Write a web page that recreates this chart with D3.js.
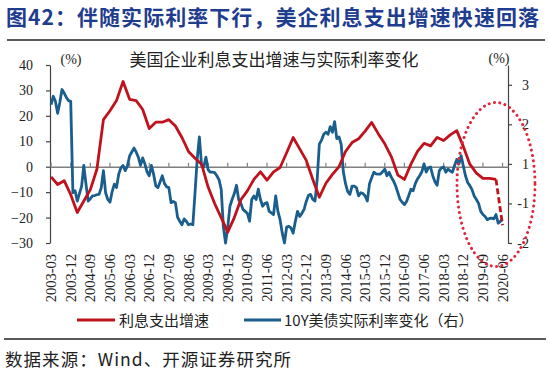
<!DOCTYPE html>
<html><head><meta charset="utf-8">
<script src="https://cdn.jsdelivr.net/npm/d3@7"></script>
<style>body{margin:0;background:#fff} svg{display:block}
.serif{font-family:'Liberation Serif','Times New Roman',serif !important;}
</style>
</head><body>
<svg id="c" width="550" height="372"></svg>
<script>
// ---------- data ----------
const firstMonth = new Date(2003, 2, 1);   // 2003-03
const endMonth = new Date(2020, 8, 1);     // exclusive -> last category 2020-08
const tickLabels = ["2003-03","2003-12","2004-09","2005-06","2006-03","2006-12","2007-09","2008-06",
  "2009-03","2009-12","2010-09","2011-06","2012-03","2012-12","2013-09","2014-06","2015-03","2015-12",
  "2016-09","2017-06","2018-03","2018-12","2019-09","2020-06"];
const leftTicks = [-30,-20,-10,0,10,20,30,40];
const rightTickValues = [2,1,0,-1,-2];
const rightTickLabels = ["3","2","1","-1","-2"];

// 利息支出增速 (quarterly, %), from 2003-03 every 3 months to 2020-03
const interestGrowth = [-4,-7,-5.5,-11,-18,-13.5,-9,-1,18.5,22,26,33.5,26.5,26,22.5,15,17.5,17.5,18.5,16,
  11.5,6,3.3,1,-8,-14.5,-20,-25.7,-20,-13,-9.5,-5,-2,-5.3,-2,-0.3,5.5,11.5,7,2.5,
  -5,-12,-6.5,-3,0,6,9.5,11,14,17.4,13,9,4,-3.3,-5,1,6,9.2,8.2,11.5,
  10.3,12.5,14.2,8,1,-2.5,-4.6,-4.6,-5];
// dashed last step
const forecastMonths = ["2020-03","2020-06"];
const interestForecast = [-5,-23];

// 10Y美债实际利率变化 (monthly, %), 2003-03 .. 2020-06
const realRateChange = [1.50,1.71,1.58,1.28,1.55,1.88,1.79,1.68,1.60,1.58,
  -0.73,-0.68,-0.94,-0.75,-0.56,-0.04,-0.51,-0.94,-0.88,-0.81,
  -0.80,-0.78,-0.77,-0.60,-0.17,-0.73,-0.90,-0.97,-0.70,-0.51,
  -0.60,-0.26,-0.10,-0.04,-0.17,-0.05,0.20,0.30,0.40,0.30,
  0.17,-0.04,0.15,0.00,-0.20,-0.30,-0.04,-0.26,-0.55,-0.60,
  -0.45,-0.30,-0.50,-0.58,-0.60,-0.98,-0.95,-0.98,-1.35,-1.45,
  -1.54,-1.39,-1.45,-1.54,-1.52,-1.54,-0.73,0.13,0.68,-0.04,
  -0.08,0.17,-0.15,-0.21,-0.21,-0.22,-0.30,-0.40,-0.64,-1.60,
  -2.00,-1.60,-1.07,-0.90,-0.75,-0.54,-0.90,-1.00,-1.15,-1.20,
  -1.25,-1.45,-0.90,-0.81,-0.90,-0.64,-0.90,-1.07,-1.00,-0.98,
  -1.20,-1.24,-1.28,-0.81,-1.20,-1.41,-1.75,-2.00,-1.60,-1.58,
  -1.62,-1.75,-1.45,-1.20,-1.33,-1.25,-1.15,-0.95,-0.80,-0.77,
  -0.90,-0.94,-0.40,0.50,0.60,0.75,0.80,0.75,0.94,0.80,
  1.07,0.64,0.68,0.50,-0.20,-0.50,-0.70,-0.77,-0.56,-0.56,
  -0.60,-0.81,-0.73,-0.75,-0.81,-0.94,-0.50,-0.35,-0.21,-0.25,
  -0.26,-0.26,-0.20,-0.13,-0.30,-0.21,-0.34,-0.43,-0.56,-0.73,
  -0.90,-0.97,-1.03,-0.95,-0.80,-0.64,-0.68,-0.50,-0.38,-0.30,
  -0.20,0.00,-0.21,-0.10,-0.08,-0.30,-0.45,-0.54,-0.17,-0.10,
  -0.08,-0.21,-0.13,-0.18,-0.21,-0.04,0.11,0.00,0.21,-0.05,
  -0.30,-0.47,-0.55,-0.65,-0.81,-0.90,-1.00,-1.20,-1.28,-1.33,
  -1.41,-1.38,-1.37,-1.39,-1.28,-1.50,-1.45,-1.41];

const seriesNames = ["利息支出增速","10Y美债实际利率变化（右）"];
const colors = {red:"#c0121c", blue:"#1a5e8e", navy:"#1f3d8e"};

// ---------- build ----------
const fmt = d3.timeFormat("%Y-%m");
const months = d3.timeMonth.range(firstMonth, endMonth).map(fmt);
const redMonths = months.filter((m,i)=>i%3===0).slice(0, interestGrowth.length);

const svg = d3.select("#c");
const L = 50, R = 508, T = 65, B = 243;
const x = d3.scaleBand().domain(months).range([L, R]).paddingInner(0).paddingOuter(0);
const xc = m => x(m) + x.bandwidth()/2;
const yL = d3.scaleLinear().domain([-30, 40]).range([B, T]);
const yR = d3.scaleLinear().domain([-2, 2.5]).range([B, T]);

const sans = "'Noto Sans CJK SC','Noto Sans',sans-serif";

// title
svg.append("text").attr("x", 6).attr("y", 25)
  .attr("font-family", sans).attr("font-weight", 700).attr("font-size", 21)
  .attr("fill", colors.navy).attr("textLength", 533).attr("lengthAdjust","spacing")
  .text("图42：伴随实际利率下行，美企利息支出增速快速回落");
svg.append("line").attr("x1",7).attr("x2",545).attr("y1",40).attr("y2",40)
  .attr("stroke","#222").attr("stroke-width",1.5);

// chart title
svg.append("text").attr("x", 274).attr("y", 66).attr("text-anchor","middle")
  .attr("font-family", sans).attr("font-size", 17).attr("fill","#222")
  .text("美国企业利息支出增速与实际利率变化");
svg.append("text").attr("class","serif").attr("x", 71).attr("y", 64).attr("text-anchor","middle")
  .attr("font-size", 14).attr("fill","#222").text("(%)");
svg.append("text").attr("class","serif").attr("x", 499).attr("y", 63).attr("text-anchor","middle")
  .attr("font-size", 14).attr("fill","#222").text("(%)");

// left axis
const gL = svg.append("g").attr("transform",`translate(${L},0)`)
  .call(d3.axisLeft(yL).tickValues(leftTicks).tickSize(4).tickSizeOuter(0).tickPadding(13));
gL.attr("font-family", null);
gL.select(".domain").attr("stroke","#444").attr("stroke-width",1.2);
gL.selectAll(".tick line").attr("stroke","#444").attr("stroke-width",1.2);
gL.selectAll("text").attr("class","serif").attr("font-size", 14).attr("fill","#222");

// right axis
const gR = svg.append("g").attr("transform",`translate(${R},0)`)
  .call(d3.axisRight(yR).tickValues(rightTickValues).tickFormat((d,i)=>rightTickLabels[i]).tickSize(4).tickSizeOuter(0));
gR.attr("font-family", null);
gR.select(".domain").attr("stroke","#444").attr("stroke-width",1.2);
gR.selectAll(".tick line").attr("stroke","#444").attr("stroke-width",1.2);
gR.selectAll("text").attr("class","serif").attr("font-size", 14).attr("fill","#222")
  .attr("text-anchor","end").attr("x", 21);

// zero line with category ticks
const tickMonths = tickLabels;
const gZ = svg.append("g").attr("transform",`translate(0,${yL(0)})`)
  .call(d3.axisBottom(x).tickValues(tickMonths).tickSize(-4).tickSizeOuter(0).tickFormat(""));
gZ.select(".domain").attr("stroke","#7f7f7f").attr("stroke-width",1.4);
gZ.selectAll(".tick line").attr("stroke","#7f7f7f").attr("stroke-width",1.2);

// x labels at bottom
const gX = svg.append("g").attr("transform",`translate(0,${B})`)
  .call(d3.axisBottom(x).tickValues(tickMonths).tickSize(0).tickSizeOuter(0));
gX.attr("font-family", null);
gX.select(".domain").remove();
gX.selectAll("text").attr("class","serif").attr("font-size", 14.5).attr("fill","#222")
  .attr("transform","rotate(-90)").attr("x",-11).attr("y",0).attr("dy","0.35em")
  .attr("text-anchor","end");

// lines
const blueData = realRateChange.map((v,i)=>({m:months[i], v}));
svg.append("path").datum(blueData)
  .attr("d", d3.line().x(d=>xc(d.m)).y(d=>yR(d.v)))
  .attr("fill","none").attr("stroke",colors.blue).attr("stroke-width",2.8).attr("stroke-linejoin","round");

const redData = interestGrowth.map((v,i)=>({m:redMonths[i], v}));
svg.append("path").datum(redData)
  .attr("d", d3.line().x(d=>xc(d.m)).y(d=>yL(d.v)))
  .attr("fill","none").attr("stroke",colors.red).attr("stroke-width",2.8).attr("stroke-linejoin","round");
const fcData = interestForecast.map((v,i)=>({m:forecastMonths[i], v}));
svg.append("path").datum(fcData)
  .attr("d", d3.line().x(d=>xc(d.m)).y(d=>yL(d.v)))
  .attr("fill","none").attr("stroke",colors.red).attr("stroke-width",2.8).attr("stroke-dasharray","6 3");

// highlight ellipse
svg.append("ellipse").attr("cx", xc("2020-03")).attr("cy", yL(-7)).attr("rx", 39).attr("ry", 82)
  .attr("fill","none").attr("stroke","#e0263a").attr("stroke-width",3)
  .attr("stroke-dasharray","0.01 5.4").attr("stroke-linecap","round");

// legend
const lg = svg.append("g");
lg.append("line").attr("x1",77).attr("x2",115).attr("y1",320).attr("y2",320)
  .attr("stroke",colors.red).attr("stroke-width",2.8);
lg.append("text").attr("x",119).attr("y",326).attr("font-family",sans).attr("font-size",15).attr("fill","#222").text(seriesNames[0]);
lg.append("line").attr("x1",244).attr("x2",281).attr("y1",320).attr("y2",320)
  .attr("stroke",colors.blue).attr("stroke-width",2.8);
lg.append("text").attr("x",284).attr("y",326).attr("font-family",sans).attr("font-size",15).attr("fill","#222").text(seriesNames[1]);

svg.append("line").attr("x1",4).attr("x2",546).attr("y1",339).attr("y2",339)
  .attr("stroke","#222").attr("stroke-width",1.5);
svg.append("text").attr("x",5).attr("y",366).attr("font-family",sans).attr("font-size",17.5)
  .attr("fill","#222").attr("textLength",286).attr("lengthAdjust","spacing")
  .text("数据来源：Wind、开源证券研究所");
</script>
</body></html>
